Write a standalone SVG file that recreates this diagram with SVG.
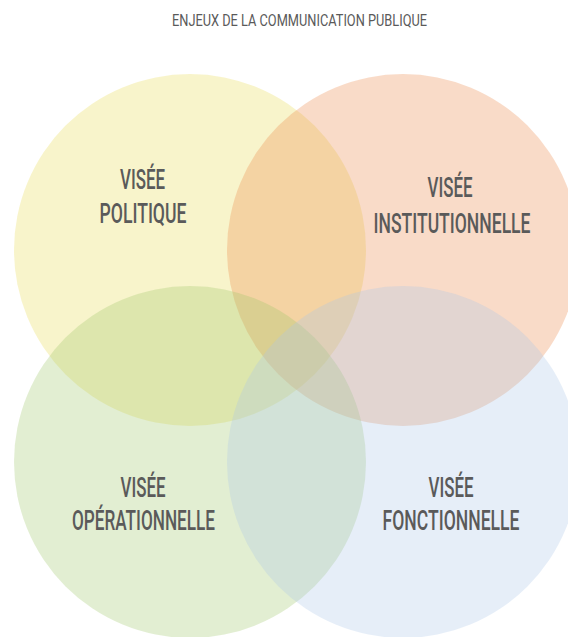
<svg xmlns="http://www.w3.org/2000/svg" width="568" height="637" viewBox="0 0 568 637">
<style>
.c{fill-opacity:0.3}
.t{font-family:Roboto,"Liberation Sans",Arial,sans-serif;font-weight:500;fill:#5a5a5a;text-anchor:middle}
.l{font-size:28px}
.h{font-size:16px;font-weight:400}
</style>
<rect width="568" height="637" fill="#ffffff"/>
<g id="circles">
<g id="politique"><circle class="c" cx="190" cy="250" r="176" fill="#E8DA52"/></g>
<g id="institutionnelle"><circle class="c" cx="403" cy="250" r="176" fill="#EB8748"/></g>
<g id="operationnelle"><circle class="c" cx="190" cy="462" r="176" fill="#9EC669"/></g>
<g id="fonctionnelle"><circle class="c" cx="403" cy="462" r="176" fill="#ACC6E8"/></g>
</g>
<g id="connectors"/>
<text class="t h" x="299.5" y="26" textLength="255" lengthAdjust="spacingAndGlyphs">ENJEUX DE LA COMMUNICATION PUBLIQUE</text>
<g id="label-politique">
<text class="t l" x="142.5" y="189" textLength="45" lengthAdjust="spacingAndGlyphs">VISÉE</text>
<text class="t l" x="143" y="223" textLength="87" lengthAdjust="spacingAndGlyphs">POLITIQUE</text>
</g>
<g id="label-institutionnelle">
<text class="t l" x="450" y="197" textLength="45" lengthAdjust="spacingAndGlyphs">VISÉE</text>
<text class="t l" x="452" y="233" textLength="157" lengthAdjust="spacingAndGlyphs">INSTITUTIONNELLE</text>
</g>
<g id="label-operationnelle">
<text class="t l" x="143" y="497" textLength="45" lengthAdjust="spacingAndGlyphs">VISÉE</text>
<text class="t l" x="143.5" y="530" textLength="143" lengthAdjust="spacingAndGlyphs">OPÉRATIONNELLE</text>
</g>
<g id="label-fonctionnelle">
<text class="t l" x="451" y="497" textLength="45" lengthAdjust="spacingAndGlyphs">VISÉE</text>
<text class="t l" x="451" y="530" textLength="137" lengthAdjust="spacingAndGlyphs">FONCTIONNELLE</text>
</g>
</svg>
